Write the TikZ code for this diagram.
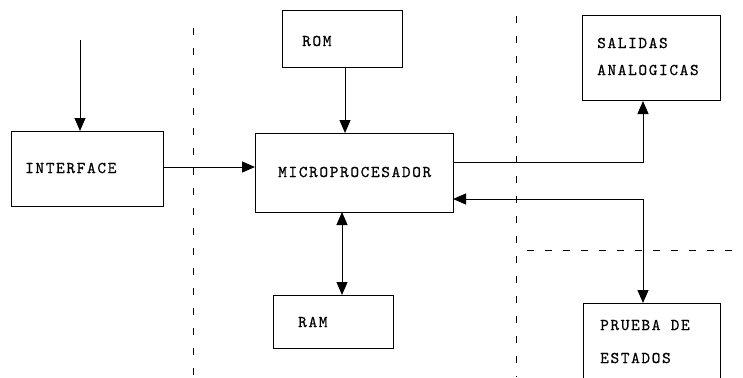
\documentclass[tikz,border=0pt]{standalone}
\usepackage{fontspec}
\usetikzlibrary{arrows.meta}
\newfontfamily\twfam{lmmono10-regular.otf}[LetterSpace=10,FakeBold=0.6]
\newcommand\twfont{\twfam\fontsize{16.5}{18}\selectfont}
\begin{document}
\begin{tikzpicture}[x=1pt,y=-1pt,
  box/.style={draw,line width=1pt,anchor=north west,inner sep=0pt},
  lbl/.style={anchor=west,inner sep=0pt,font=\twfont},
  conn/.style={line width=1pt},
  sep/.style={line width=0.9pt,dash pattern=on 7pt off 13pt}]
\useasboundingbox (0,0) rectangle (743,377);
\fill[white] (0,0) rectangle (743,377);
% separators
\draw[sep] (193,28) -- (193,377);
\draw[sep] (516,16) -- (516,377);
\draw[sep,line width=0.8pt,dash pattern=on 7pt off 11pt] (527,250) -- (743,250);
% boxes
\node[box,minimum width=152pt,minimum height=75pt] (interface) at (11,131) {};
\node[box,minimum width=198pt,minimum height=79pt] (micro) at (255,133) {};
\node[box,minimum width=120pt,minimum height=57pt] (rom) at (282,10) {};
\node[box,minimum width=120pt,minimum height=53pt] (ram) at (273,295) {};
\node[box,minimum width=138pt,minimum height=85pt] (salidas) at (582,15) {};
\node[box,minimum width=137pt,minimum height=90pt] (prueba) at (583,303) {};
% labels
\node[lbl] (tInterface) at (25,168) {INTERFACE};
\node[lbl] (tMicro) at (278,172) {MICROPROCESADOR};
\node[lbl] (tRom) at (302,41) {ROM};
\node[lbl] (tRam) at (298,322) {RAM};
\node[lbl] (tSal1) at (597,43) {SALIDAS};
\node[lbl] (tSal2) at (597,70) {ANALOGICAS};
\node[lbl] (tPr1) at (600,325) {PRUEBA DE};
\node[lbl] (tPr2) at (600,358) {ESTADOS};
% connectors
\coordinate (in) at (80,40);
\draw[conn,-{Triangle[length=13pt,width=11pt]}] (in) -- (in |- interface.north);
\coordinate (ifo) at (163,167);
\draw[conn,-{Triangle[length=13pt,width=11pt]}] (ifo) -- (ifo -| micro.west);
\coordinate (romo) at (345,67);
\draw[conn,-{Triangle[length=13pt,width=11pt]}] (romo) -- (romo |- micro.north);
\coordinate (mr) at (342,212);
\draw[conn,{Triangle[length=13pt,width=11pt]}-{Triangle[length=13pt,width=11pt]}] (mr) -- (mr |- ram.north);
\coordinate (mo) at (453,162);
\coordinate (sb) at (643,162);
\draw[conn,-{Triangle[length=13pt,width=11pt]}] (mo) -- (sb) -- (sb |- salidas.south);
\coordinate (mi) at (453,199);
\coordinate (pb) at (643,199);
\draw[conn,{Triangle[length=13pt,width=11pt]}-{Triangle[length=13pt,width=11pt]}] (mi) -- (pb) -- (pb |- prueba.north);
\end{tikzpicture}
\end{document}
